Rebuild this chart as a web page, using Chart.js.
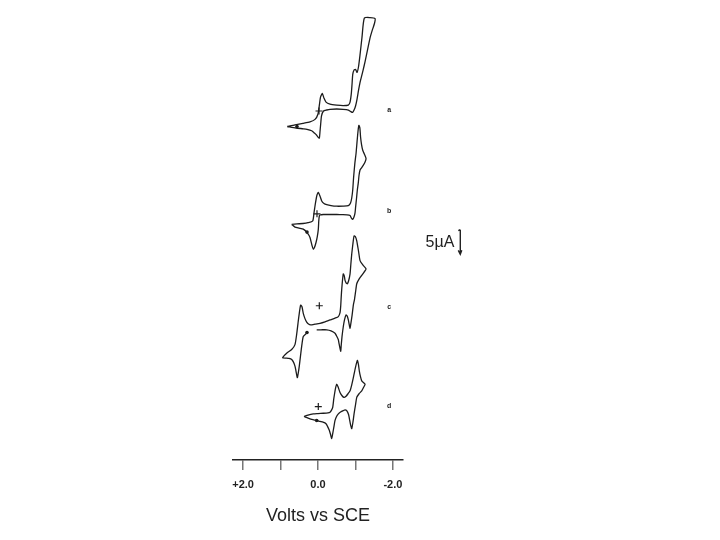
<!DOCTYPE html>
<html>
<head>
<meta charset="utf-8">
<script src="https://cdn.jsdelivr.net/npm/chart.js@4.4.0/dist/chart.umd.min.js"></script>
<style>
	body { margin: 0; background: #fff; }
</style>
</head>
<body>
<canvas id="cv-chart" width="720" height="540"></canvas>
<script>
// potentials (V vs SCE) and currents (uA, each trace stacked with its own offset)
const traceA_V = [0.821, 0.615, 0.401, 0.214, 0.080, 0, -0.040, -0.067, -0.115, -0.160, -0.214, -0.321, -0.5, -0.668, -0.810, -0.856, -0.888, -0.909, -0.928, -0.963, -1.003, -1.043, -1.083, -1.123, -1.176, -1.238, -1.390, -1.524, -1.511, -1.444, -1.390, -1.324, -1.257, -1.203, -1.163, -1.123, -1.083, -1.043, -1.003, -0.963, -0.922, -0.869, -0.810, -0.668, -0.5, -0.321, -0.233, -0.147, -0.094, -0.072, -0.053, -0.035, 0, 0.035, 0.107, 0.168, 0.294, 0.393, 0.588, 0.821];
const traceA_I = [67.46, 67.8, 68.1, 68.4, 68.9, 70.0, 72.0, 73.4, 74.14, 73.2, 72.4, 72.0, 71.8, 71.7, 71.8, 72.4, 74.0, 76.0, 78.0, 78.9, 79.0, 78.4, 79.6, 82.0, 85.6, 89.4, 89.5, 89.3, 88.4, 86.8, 85.4, 83.0, 80.6, 78.8, 77.6, 76.4, 74.8, 73.0, 71.6, 70.8, 70.3, 70.5, 70.8, 70.94, 71.0, 70.94, 70.8, 70.6, 69.6, 68.0, 66.4, 65.1, 65.3, 65.7, 66.2, 66.6, 66.9, 67.0, 67.16, 67.46];

const traceB_V = [0.703, 0.561, 0.401, 0.267, 0.142, 0.107, 0.067, 0.027, -0.008, -0.053, -0.099, -0.160, -0.233, -0.348, -0.5, -0.668, -0.810, -0.869, -0.901, -0.928, -0.949, -0.984, -1.016, -1.043, -1.070, -1.091, -1.118, -1.136, -1.163, -1.195, -1.243, -1.283, -1.257, -1.211, -1.163, -1.123, -1.096, -1.075, -1.051, -1.027, -1.005, -0.989, -0.963, -0.928, -0.888, -0.856, -0.775, -0.668, -0.5, -0.321, -0.142, -0.053, -0.035, -0.021, -0.008, 0.019, 0.053, 0.094, 0.126, 0.160, 0.214, 0.281, 0.393, 0.508, 0.615, 0.703];
const traceB_I = [47.66, 47.76, 47.84, 48.0, 48.34, 50.0, 52.0, 53.6, 54.14, 53.4, 52.4, 51.9, 51.66, 51.46, 51.34, 51.36, 51.46, 52.0, 53.0, 54.66, 57.0, 60.0, 62.0, 64.4, 66.6, 67.7, 67.2, 65.4, 63.8, 62.66, 61.8, 61.0, 60.3, 59.66, 59.1, 58.66, 57.6, 56.0, 54.66, 52.8, 51.2, 50.0, 49.2, 48.66, 49.0, 49.46, 49.6, 49.64, 49.66, 49.66, 49.66, 49.56, 49.34, 48.4, 46.66, 45.2, 44.0, 43.0, 42.66, 43.4, 45.0, 45.9, 46.7, 46.9, 47.1, 47.66];

const traceC_V = [0.302, 0.393, 0.436, 0.468, 0.5, 0.527, 0.553, 0.588, 0.615, 0.655, 0.703, 0.775, 0.837, 0.944, 0.837, 0.703, 0.615, 0.570, 0.535, 0.5, 0.463, 0.428, 0.393, 0.348, 0.302, 0.254, 0.195, 0.080, -0.053, -0.187, -0.321, -0.455, -0.543, -0.588, -0.607, -0.620, -0.634, -0.655, -0.676, -0.703, -0.722, -0.754, -0.783, -0.816, -0.856, -0.877, -0.901, -0.930, -0.963, -0.997, -1.035, -1.083, -1.123, -1.203, -1.283, -1.230, -1.168, -1.096, -1.035, -1.003, -0.973, -0.944, -0.909, -0.877, -0.856, -0.834, -0.810, -0.781, -0.749, -0.709, -0.676, -0.642, -0.620, -0.607, -0.588, -0.561, -0.543, -0.495, -0.455, -0.348, -0.233, -0.080, 0.035];
const traceC_I = [25.66, 25.0, 23.0, 21.0, 19.0, 17.6, 16.66, 18.0, 19.0, 19.8, 20.34, 20.54, 20.6, 20.66, 21.6, 22.34, 23.34, 25.4, 27.6, 29.66, 31.34, 31.0, 29.66, 28.6, 27.9, 27.5, 27.34, 27.48, 27.66, 27.96, 28.34, 28.7, 29.0, 29.8, 31.2, 33.0, 34.6, 36.4, 37.66, 37.2, 36.34, 35.8, 35.66, 36.2, 37.66, 39.6, 41.66, 43.6, 45.34, 45.2, 44.34, 42.2, 40.34, 39.4, 38.66, 38.0, 37.34, 36.6, 35.66, 34.0, 32.4, 31.34, 29.2, 27.6, 26.66, 27.4, 28.34, 29.1, 29.34, 28.4, 27.0, 25.0, 23.2, 22.0, 22.6, 23.6, 24.34, 25.1, 25.66, 26.14, 26.34, 26.34, 26.34];

const traceD_V = [0.374, 0.267, 0.126, 0, -0.142, -0.267, -0.321, -0.361, -0.393, -0.422, -0.455, -0.476, -0.5, -0.535, -0.588, -0.642, -0.695, -0.749, -0.802, -0.856, -0.901, -0.944, -0.997, -1.051, -1.078, -1.104, -1.136, -1.168, -1.217, -1.257, -1.217, -1.168, -1.096, -1.035, -1.003, -0.963, -0.936, -0.901, -0.877, -0.856, -0.816, -0.767, -0.722, -0.676, -0.602, -0.543, -0.495, -0.455, -0.422, -0.393, -0.366, -0.334, -0.302, -0.254, -0.214, -0.134, -0.053, 0.035, 0.134, 0.214, 0.294, 0.374];
const traceD_I = [8.8, 9.1, 9.34, 9.4, 9.46, 9.54, 9.66, 10.1, 10.66, 12.4, 14.0, 14.8, 15.34, 14.8, 13.66, 13.0, 12.66, 12.9, 13.4, 14.0, 15.2, 16.66, 18.6, 20.14, 19.4, 18.0, 16.8, 16.0, 15.64, 15.34, 14.7, 14.0, 13.4, 12.66, 11.2, 9.34, 7.8, 6.34, 6.9, 7.66, 9.2, 10.0, 10.14, 10.0, 9.7, 9.34, 8.8, 8.0, 6.6, 5.34, 4.34, 5.2, 6.0, 6.8, 7.34, 7.64, 7.8, 8.0, 8.16, 8.34, 8.56, 8.8];

// zero-current crosses and start-of-scan marks
const crossV = [-0.027, 0.027, -0.035, -0.008];
const crossI = [70.6, 49.8, 31.2, 10.8];
const startV = [0.561, 0.294, 0.294, 0.035];
const startI = [67.46, 46.1, 25.8, 8.0];

const traceLabels = ["a", "b", "c", "d"];
const labelV = [-1.9, -1.9, -1.9, -1.9];
const labelI = [70.8, 50.4, 31.0, 11.0];

// axis ticks (potential axis runs from positive on the left to negative on the right)
const tickValues = [2, 1, 0, -1, -2];
const tickLabels = { "2": "+2.0", "0": "0.0", "-2": "-2.0" };

// 5 uA scale bar
const scaleBarText = "5\u00b5A";
const scaleBarV = -3.8;
const scaleBarTextV = -3.64;
const scaleBarTop = 46.6;
const scaleBarSize = 5;

const toPoints = (xs, ys) => xs.map((x, i) => ({ x: x, y: ys[i] }));

const traceStyle = {
	showLine: true,
	pointRadius: 0,
	borderColor: "#1c1c1c",
	borderWidth: 1.3,
	tension: 0.2,
	fill: false,
};

const annotations = {
	id: "annotations",
	afterDatasetsDraw(chart) {
		const ctx = chart.ctx;
		const xs = chart.scales.x;
		const ys = chart.scales.y;
		ctx.save();
		ctx.fillStyle = "#222";
		ctx.textAlign = "center";
		ctx.textBaseline = "middle";
		ctx.font = "bold 7px 'Liberation Sans'";
		traceLabels.forEach((t, i) => {
			ctx.fillText(t, xs.getPixelForValue(labelV[i]), ys.getPixelForValue(labelI[i]));
		});

		const bx = xs.getPixelForValue(scaleBarV);
		const y0 = ys.getPixelForValue(scaleBarTop);
		const y1 = ys.getPixelForValue(scaleBarTop - scaleBarSize);
		ctx.font = "16px 'Liberation Sans'";
		ctx.textAlign = "right";
		ctx.fillText(scaleBarText, xs.getPixelForValue(scaleBarTextV), (y0 + y1) / 2 + 1);
		ctx.strokeStyle = "#222";
		ctx.lineWidth = 1.4;
		ctx.beginPath();
		ctx.moveTo(bx, y0);
		ctx.lineTo(bx, y1);
		ctx.moveTo(bx - 2, y1 - 4);
		ctx.lineTo(bx, y1);
		ctx.lineTo(bx + 1.5, y1 - 4);
		ctx.moveTo(bx - 2, y0 + 1);
		ctx.lineTo(bx, y0);
		ctx.stroke();
		ctx.restore();
	},
};

const cvCanvas = document.getElementById("cv-chart");

const cvChart = new Chart(cvCanvas, {
	type: "scatter",
	data: {
		datasets: [
			{ ...traceStyle, data: toPoints(traceA_V, traceA_I) },
			{ ...traceStyle, data: toPoints(traceB_V, traceB_I) },
			{ ...traceStyle, data: toPoints(traceC_V, traceC_I) },
			{ ...traceStyle, data: toPoints(traceD_V, traceD_I) },
			{
				data: toPoints(crossV, crossI),
				pointStyle: "cross",
				pointRadius: 3.5,
				borderColor: "#1c1c1c",
				borderWidth: 1.2,
			},
			{
				data: toPoints(startV, startI),
				pointStyle: "circle",
				pointRadius: 1.8,
				backgroundColor: "#1c1c1c",
				borderColor: "#1c1c1c",
				borderWidth: 0,
			},
		],
	},
	options: {
		responsive: false,
		animation: false,
		layout: {
			padding: { left: 233, right: 317, top: 0, bottom: 0 },
		},
		plugins: {
			legend: { display: false },
			tooltip: { enabled: false },
		},
		scales: {
			x: {
				type: "linear",
				reverse: true,
				min: -2.27,
				max: 2.27,
				afterBuildTicks: (scale) => {
					scale.ticks = tickValues.map((v) => ({ value: v }));
				},
				afterFit: (scale) => {
					scale.height = 80;
				},
				border: { display: true, color: "#222", width: 1.6 },
				grid: {
					drawOnChartArea: false,
					drawTicks: true,
					tickLength: 10,
					color: "#777",
					lineWidth: 1.5,
				},
				ticks: {
					autoSkip: false,
					maxRotation: 0,
					padding: 8,
					color: "#222",
					font: { family: "'Liberation Sans'", size: 11, weight: "bold" },
					callback: (value) => (tickLabels[value] !== undefined ? tickLabels[value] : ""),
				},
				title: {
					display: true,
					text: "Volts vs SCE",
					color: "#222",
					font: { family: "'Liberation Sans'", size: 18 },
					padding: { top: 4, bottom: 13 },
				},
			},
			y: {
				display: false,
				min: 0,
				max: 92,
			},
		},
	},
	plugins: [annotations],
});
</script>
</body>
</html>
